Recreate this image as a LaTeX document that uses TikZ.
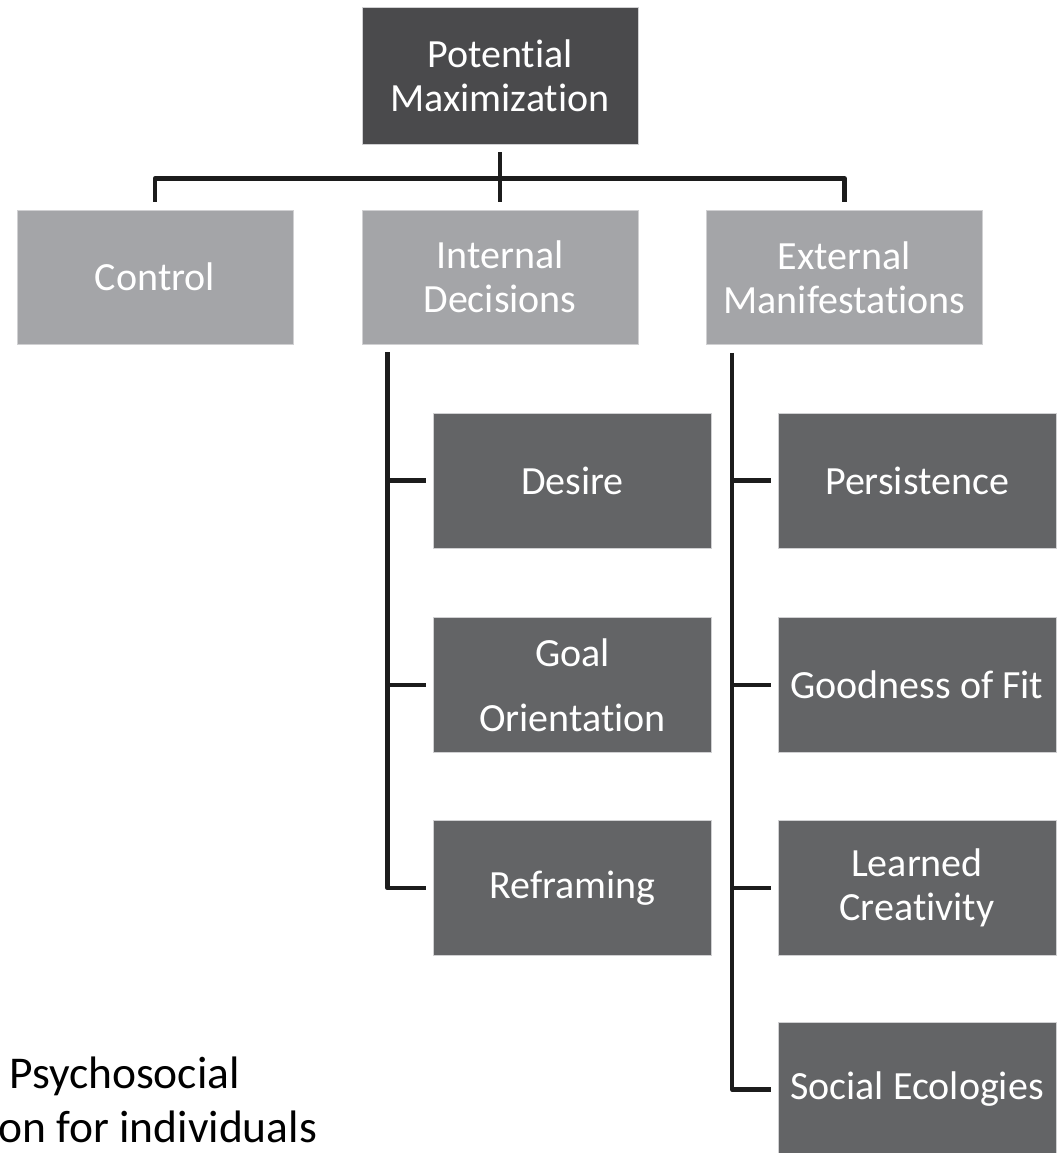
\documentclass[tikz,border=0pt]{standalone}
\usepackage{fontspec}
\setmainfont{Carlito}[Ligatures={NoCommon,NoRare}]
\usetikzlibrary{calc}
\definecolor{topgray}{HTML}{4A4A4C}
\definecolor{midgray}{HTML}{A4A5A8}
\definecolor{subgray}{HTML}{636466}
\definecolor{linecol}{HTML}{1C1C1C}
\definecolor{edgecol}{HTML}{D0D0D2}
\begin{document}
\begin{tikzpicture}[x=1pt,y=-1pt,
  box/.style={rectangle, inner sep=0pt, text=white, align=center,
    font=\fontsize{40}{44}\selectfont, draw=edgecol, line width=0.8pt},
  topbox/.style={box, fill=topgray, minimum width=276pt, minimum height=137pt},
  midbox/.style={box, fill=midgray, minimum width=276pt, minimum height=134pt},
  subbox/.style={box, fill=subgray, minimum width=278pt, minimum height=135pt},
  conn/.style={draw=linecol, line width=4.5pt, line join=round},
  caption/.style={anchor=base west, inner sep=0pt, text=black,
    font=\fontsize{45.5}{55}\selectfont}
]
\useasboundingbox (0,0) rectangle (1059,1153);
\clip (0,0) rectangle (1059,1153);

% nodes
\node[topbox] (pm)  at (500,75.5)   {Potential\\Maximization};
\node[midbox] (ctl) at (155,277)    {Control};
\node[midbox] (int) at (500,277)    {Internal\\Decisions};
\node[midbox] (ext) at (844.5,277.5){External\\Manifestations};

\node[subbox] (des)  at (572.5,480.5) {Desire};
\node[subbox, font=\fontsize{40}{65}\selectfont] (goal) at (572.5,685) {Goal\\Orientation};
\node[subbox] (ref)  at (572.5,888)   {Reframing};

\node[subbox] (per) at (917,480.5)  {Persistence};
\node[subbox] (gof) at (917,685)    {Goodness of Fit};
\node[subbox] (lc)  at (917,888)    {Learned\\Creativity};
\node[subbox] (se)  at (917,1089.5) {Social Ecologies};

% top connectors
\coordinate (bar) at ($(pm.south)+(0,34)$);
\draw[conn] ($(pm.south)+(0,8)$) -- ($(int.north)+(0,-8)$);
\draw[conn] ($(ctl.north)+(0,-8)$) -- (ctl.north |- bar) -- (ext.north |- bar) -- ($(ext.north)+(0,-8)$);

% internal decisions column
\coordinate (ispine) at ($(int.south west)+(26,8)$);
\draw[conn] (ispine) -- (ispine |- ref.west) -- ($(ref.west)+(-7,0)$);
\draw[conn] (ispine |- des.west) -- ($(des.west)+(-7,0)$);
\draw[conn] (ispine |- goal.west) -- ($(goal.west)+(-7,0)$);

% external manifestations column
\coordinate (espine) at ($(ext.south west)+(26,8)$);
\draw[conn] (espine) -- (espine |- se.west) -- ($(se.west)+(-7,0)$);
\draw[conn] (espine |- per.west) -- ($(per.west)+(-7,0)$);
\draw[conn] (espine |- gof.west) -- ($(gof.west)+(-7,0)$);
\draw[conn] (espine |- lc.west) -- ($(lc.west)+(-7,0)$);

% caption fragment
\node[caption] (cap1) at (9,1088) {Psychosocial};
\node[caption] (cap2) at (-2,1142) {on for individuals};
\end{tikzpicture}
\end{document}
